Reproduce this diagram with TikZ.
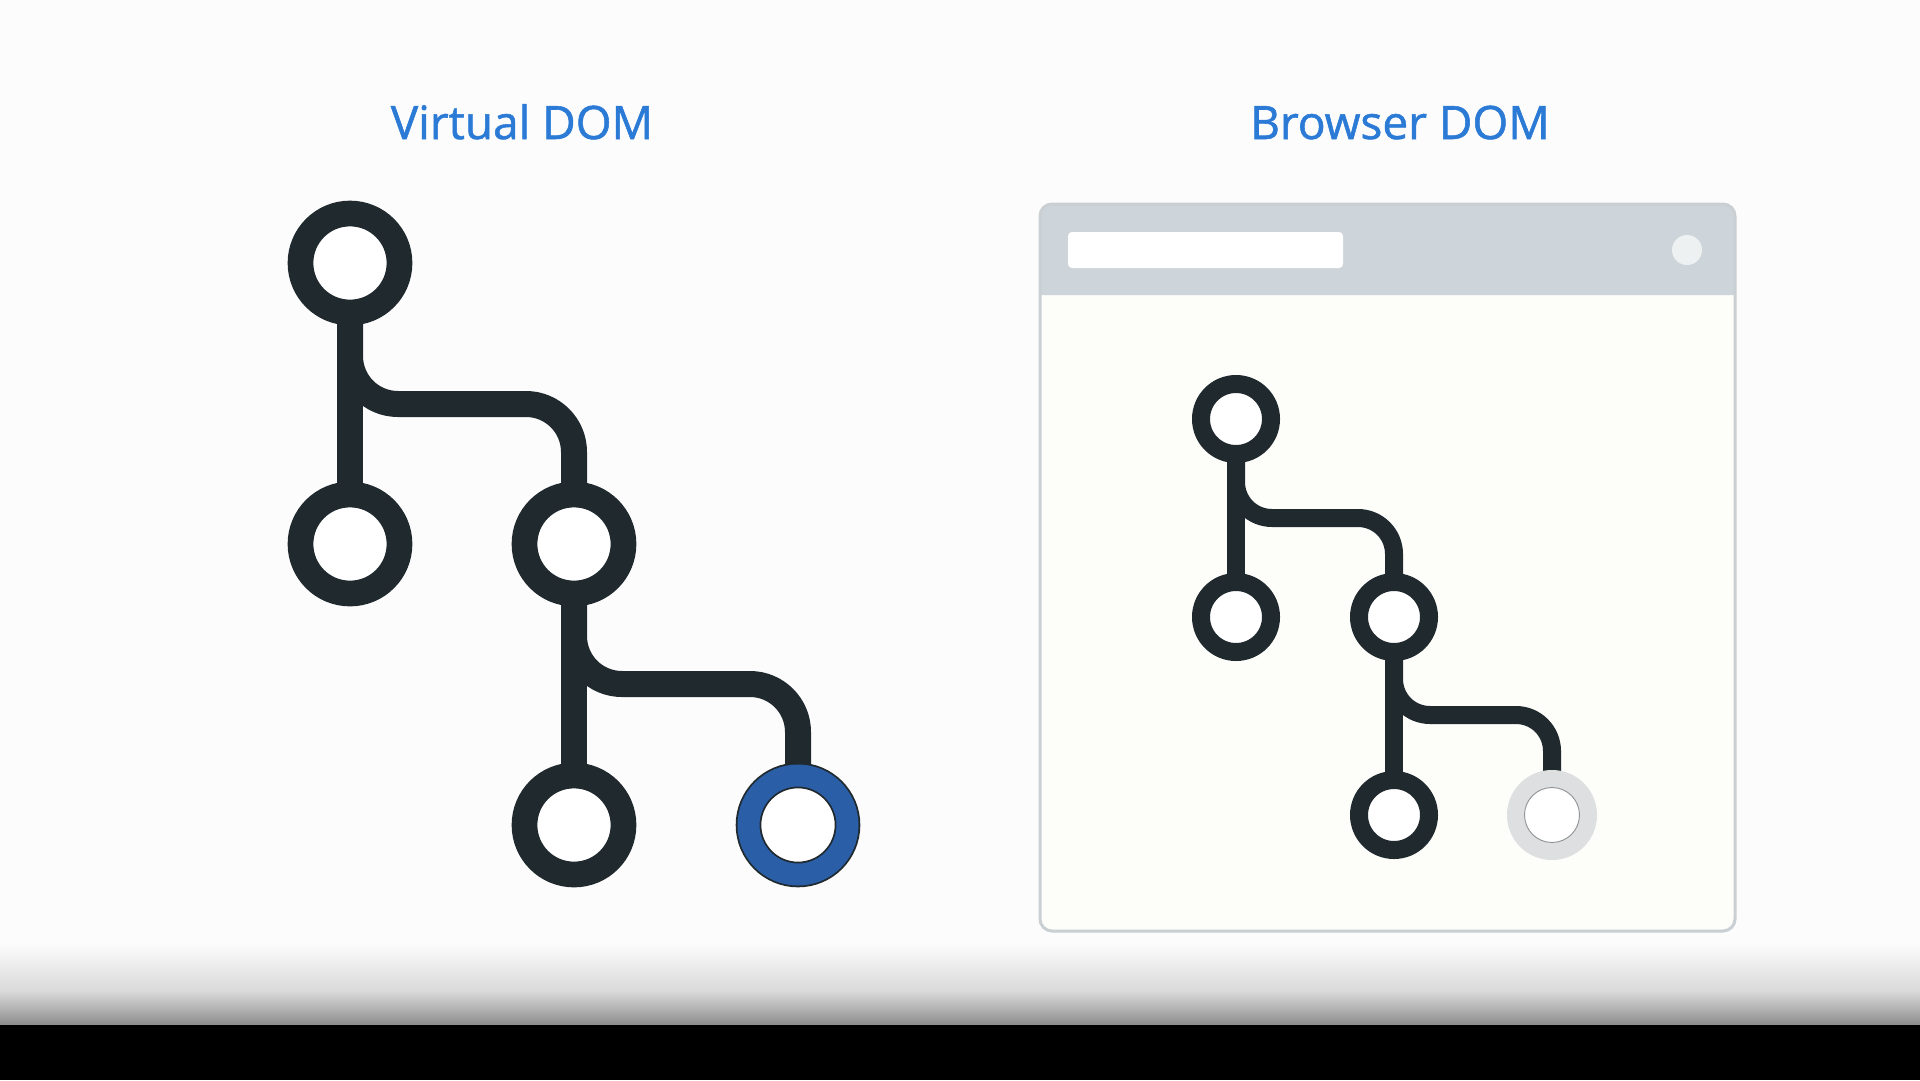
\documentclass[tikz,border=0pt]{standalone}
\usepackage{fontspec}
\newfontfamily\titlefont[FakeBold=1.2]{Open Sans}
\usetikzlibrary{calc,backgrounds}
\definecolor{bgc}{HTML}{FCFCFC}
\definecolor{dark}{HTML}{1F292E}
\definecolor{titleblue}{HTML}{2A7AD6}
\definecolor{ringblue}{HTML}{2A5EA6}
\definecolor{ringgray}{HTML}{DDDFE0}
\definecolor{ringgrayline}{HTML}{8A8F92}
\definecolor{hdrgray}{HTML}{CDD5DA}
\definecolor{boxline}{HTML}{C9CFD3}
\definecolor{boxfill}{HTML}{FDFDFA}
\definecolor{btn}{HTML}{EEF1F2}
\tikzset{
  x=1pt, y=-1pt,
  bignode/.style={circle, draw=dark, fill=white, line width=25.7pt, minimum size=99pt, inner sep=0pt},
  smallnode/.style={circle, draw=dark, fill=white, line width=18pt, minimum size=70pt, inner sep=0pt},
  bigconn/.style={draw=dark, line width=26pt},
  smallconn/.style={draw=dark, line width=18pt},
  title/.style={font=\titlefont\fontsize{46}{52}\selectfont, text=titleblue, anchor=base},
}
\begin{document}
\begin{tikzpicture}
\useasboundingbox (0,0) rectangle (1920,1080);
\begin{pgfonlayer}{background}
\fill[bgc] (0,0) rectangle (1920,1080);
% browser window
\fill[boxfill, rounded corners=12] (1040,204) rectangle (1735,931);
\fill[hdrgray] (1040,295) [rounded corners=12] -- (1040,204) -- (1735,204) [sharp corners] -- (1735,295) -- cycle;
\draw[boxline, line width=3pt, rounded corners=12] (1040,204) rectangle (1735,931);
\fill[white, rounded corners=4] (1068,232) rectangle (1343,268);
\fill[btn] (1687,250) circle (15);
\end{pgfonlayer}

% titles
\node[title] (vt) at (522,139) {Virtual DOM};
\node[title] (bt) at (1400,139) {Browser DOM};

% left tree
\node[bignode] (r1) at (350,263) {};
\node[bignode] (l1) at (350,544) {};
\node[bignode] (m1) at (574,544) {};
\node[bignode] (ml1) at (574,825) {};
\node[circle, draw=dark, double=ringblue, double distance=22pt, line width=1.8pt, fill=white, minimum size=99pt, inner sep=0pt] (mr1) at (798,825) {};
\coordinate (b1) at (0,404);
\coordinate (b2) at (0,684);

% right tree
\node[smallnode] (r2) at (1236,419) {};
\node[smallnode] (l2) at (1236,617) {};
\node[smallnode] (m2) at (1394,617) {};
\node[smallnode] (ml2) at (1394,815) {};
\node[circle, draw=ringgray, double=ringgray, double distance=16pt, line width=1pt, fill=white, minimum size=72pt, inner sep=0pt] (mr2) at (1552,815) {};
\draw[ringgrayline, line width=0.8pt] (mr2.center) circle (27.5);
\coordinate (c1) at (0,518);
\coordinate (c2) at (0,715);

\begin{pgfonlayer}{background}
\draw[bigconn] (r1.center) -- (l1.center);
\draw[bigconn, rounded corners=48pt] (r1.center) |- (b1 -| m1.center) -- (m1.center);
\draw[bigconn] (m1.center) -- (ml1.center);
\draw[bigconn, rounded corners=48pt] (m1.center) |- (b2 -| mr1.center) -- (mr1.center);
\draw[smallconn] (r2.center) -- (l2.center);
\draw[smallconn, rounded corners=36pt] (r2.center) |- (c1 -| m2.center) -- (m2.center);
\draw[smallconn] (m2.center) -- (ml2.center);
\draw[smallconn, rounded corners=36pt] (m2.center) |- (c2 -| mr2.center) -- (mr2.center);
\end{pgfonlayer}

% bottom fade and black band
\shade[top color=bgc, bottom color=black!15] (0,943) rectangle (1920,992);
\shade[top color=black!15, bottom color=black!45] (0,991.5) rectangle (1920,1025);
\fill[black] (0,1024.5) rectangle (1920,1080);
\end{tikzpicture}
\end{document}
